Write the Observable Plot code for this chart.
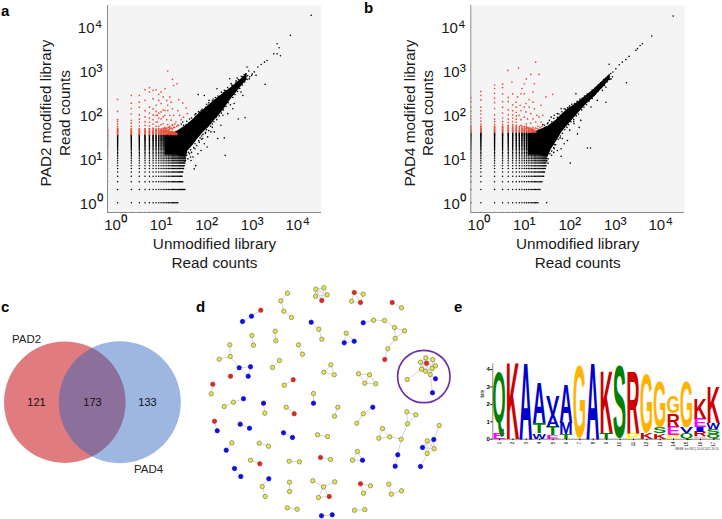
<!DOCTYPE html>
<html><head><meta charset="utf-8">
<script src="https://cdn.jsdelivr.net/npm/d3@7"></script>
<script src="https://cdn.jsdelivr.net/npm/@observablehq/plot@0.6"></script>
<style>
html,body{margin:0;padding:0;background:#fff;font-family:"Liberation Sans",Arial,sans-serif}
#page{position:relative;width:722px;height:519px;overflow:hidden}
#page svg{position:absolute;background:transparent}
.tag{position:absolute;font:bold 15px "Liberation Sans",Arial,sans-serif;color:#000}
</style></head><body><div id="page"></div>
<script>
// ---------- panel a / b scatter: integer read-count lattice ----------
const rowsA=[0.6,1,2,3,4,5,6,7,8,9,10,11,12,13,14,15,16,17,18,19,20,21,22,23,24,25,26,27,28,29,30,31,32,33,34,35];
const rowMaxA=[22,21,30,27,26,27,28,29,30,31,31,31,31,32,32,32,32,32,32,32,32,32,32,32,32,32,32,32,32,32,32,32,32,32,32,32];
const rowsB=[0.6,1,2,3,4,5,6,7,8,9,10,11,12,13,14,15,16,17,18,19,20,21,22,23,24,25,26,27,28,29,30,31,32,33,34,35,36,37,38,39];
const rowMaxB=[18,18,20,22,24,25,26,27,27,28,28,28,28,29,29,29,29,29,29,29,29,29,29,29,29,29,29,29,29,29,29,29,29,29,29,29,29,29,29,29];
const latticeCols=[0.6,1,2,3,4,5,6,7,8,9,10,11,12,13,14,15,16,17,18,19,20,21,22,23,24,25,26,27,28,29,30,31,32];
// dense wedge envelopes
const wedgeXA=[11,20,30,35,45,60,80,100,150,200,300,500,700];
const wedgeLowA=[12,12,11,15,20,30,42,52,85,120,220,420,630];
const wedgeHighA=[34,42,55,62,78,105,135,165,235,295,405,640,880];
const wedgeXB=[11,20,30,35,45,60,80,100,150,200,300,500,700];
const wedgeLowB=[12,12,11,16,24,40,57,74,120,165,245,435,645];
const wedgeHighB=[36,46,55,62,76,102,132,155,210,265,375,615,855];
// individual black points
const blackA=[[17800,18500],[6240,6480],[3180,4170],[3515,3390],[2690,2460],[3180,2460],[3760,2230],[1730,496],[1910,1740],[1680,1590],[1420,1410],[1200,1230],[695,1230],[630,86],[290,665],[152,395],[220,363],[80,276],[59,290],[230,12],[220,30],[158,29],[447,81],[338,138],[145,89],[112,41],[92,18.6],[80,22],[68,15.5],[48,5.9],[52,7],[41,9.2],[45,11],[58,13],[74,29],[95,31.6],[133,41],[186,58],[204,98],[263,107],[363,182],[513,331],[562,276],[776,661],[881,794],[1000,955],[1096,794],[468,562],[398,562],[338,468],[263,276],[170,257],[133,195],[102,214],[68,126],[52,107],[38,81],[27,69],[32,60],[40,11],[36,14],[50,17],[62,24],[70,33],[85,40],[120,52],[60,120],[90,175],[125,230],[240,360],[310,520],[420,690],[600,830],
[25,62],[28,58],[33,72],[37,66],[42,85],[46,78],[50,100],[55,92],[62,115],[66,105],[72,135],[78,125],[85,150],[92,140],[100,190],[110,175],[120,210],[130,195],[140,250],[160,270],[175,250],[190,330],[210,320],[230,340],[260,420],[280,390],[320,480],[360,460],[400,600],[450,640],[520,760],[560,740],[650,860],[720,780],[760,1000],
[30,9],[33,12],[35,10],[38,13],[40,16],[42,14],[47,18],[50,22],[55,20],[60,26],[65,30],[70,28],[75,36],[85,38],[90,46],[100,44],[110,55],[120,62],[130,70],[150,78],[170,95],[190,110],[210,130],[240,155],[270,190],[300,170],[340,250],[380,290],[430,340],[480,400],[550,480],[620,560],[700,640],[800,740],[900,850]];
const blackB=[[16900,17800],[5730,6280],[3570,4170],[3170,3800],[2770,3230],[2560,2950],[1820,2150],[1540,1820],[1290,1590],[1100,1390],[930,1120],[660,1420],[1590,540],[560,195],[220,17.6],[257,17.6],[92,8],[58,11.4],[58,17],[48,15.5],[40,14],[41,17],[158,75],[145,52],[133,37],[80,26],[68,22],[62,29],[112,63],[123,302],[87,151],[68,138],[58,138],[48,107],[41,98],[35,89],[32,75],[29,63],[23,60],[26,52],[19,45],[16,49],[309,276],[219,214],[170,195],[263,151],[363,214],[468,363],[562,427],[724,661],[28,1],[36,12],[30,10],[42,21],[55,30],[90,45],[110,70],
[25,58],[30,66],[36,70],[40,84],[48,88],[52,105],[60,118],[66,110],[72,135],[80,145],[90,160],[100,175],[115,180],[130,205],[150,230],[170,240],[190,270],[220,300],[250,320],[280,370],[330,420],[380,480],[430,530],[500,640],[560,680],[640,790],[720,880],[800,950],
[28,9],[30,8],[33,13],[36,15],[40,18],[44,21],[50,28],[56,33],[62,38],[70,46],[78,52],[85,60],[95,70],[110,78],[125,95],[140,105],[165,130],[185,150],[210,170],[240,205],[280,235],[330,300],[380,350],[450,420],[520,470],[600,560],[680,640],[780,740]];
// red points: columns at low x
const redColsA=[[0.6,[130,110,95,80,70,60,52,45,40]],[1,[225,120,78,70,62,55,50,46,42,38]],[2,[280,185,140,105,75,65,55,48,42,38]],[3,[280,195,150,100,80,68,56,48,42,38]],[4,[375,215,125,90,70,58,48,42,38]],[5,[417,331,150,110,85,68,56,48,42,38]],[6,[363,234,138,100,78,62,50,42,38]],[7,[372,166,120,98,69,55,45,40]],[8,[295,214,110,85,55,48,42,38]],[9,[331,182,117,81,60,45,40]],[10,[257,130,90,63,50,44,40]]];
const redA=[[12.6,1000],[16,645],[20,513],[17,468],[11,398],[14,257],[12,214],[12.6,166],[15,195],[22,224],[27,186],[32,145],[12.6,126],[11,126],[16,138],[21,126],[7.5,98],[11,98],[14,98],[17,98],[23,98],[28,89],[25,78],[34,107],[12,78],[15,76],[19,69],[7.5,69],[12.6,60],[16,60],[21,58],[11,52],[14,51],[17,52],[11,42],[12,44],[13,46],[14,48],[15,50],[16,48],[18,52],[20,55],[22,58],[12,50],[14,55],[16,58],[18,62],[11,48],[13,52]];
const redBandYA=[36,38,40,42,45,48];
const redBandMaxA=[20,20,18,16,13,11];
const redColsB=[[0.6,[250,200,150,120,95,80,68,58,50,44]],[1,[340,280,220,150,125,105,85,72,62,55,48,42]],[2,[480,400,310,240,190,140,100,80,70,60,52,46,42]],[3,[500,420,300,200,150,110,85,70,60,52,46,42]],[4,[250,200,130,100,80,68,58,50,44]],[5,[300,170,125,100,85,70,60,50,44]],[6,[150,115,95,80,68,58,50,44]]];
const redB=[[16,1590],[6.7,1175],[3.9,1030],[19,835],[12.5,835],[10,661],[4.8,562],[9,513],[15,513],[8,398],[7.6,302],[14,331],[38,295],[27,257],[6.4,257],[9,302],[5.9,195],[11.5,224],[14,195],[9.8,182],[7.3,166],[9,151],[11.5,151],[15,138],[21,166],[7.6,126],[9.8,117],[12.5,107],[6.9,98],[17,98],[23,98],[9,89],[10.6,81],[14,81],[19,89],[7.6,78],[21,69],[16,69],[12.5,65],[10,63],[7.6,58],[14,52],[18,55],[10.6,51],[8,48],[9,45],[10,50],[12,48],[14,46],[16,50],[18,48],[20,52],[22,55]];
const redBandYB=[41,43,45,48,51,55];
const redBandMaxB=[16,16,15,14,12,10];
const decadeTicks=[1,10,100,1000,10000];
const sup={"0":"⁰","1":"¹","2":"²","3":"³","4":"⁴"};
// ---------- panel c ----------
const vennSets=["PAD2","PAD4"];
const vennCentreX=[64.3,119.3];
const vennCentreY=[111.7,111.7];
const vennCounts=[121,173,133];
const vennCountX=[36,92,147];
const vennCountY=[111.7,111.7,111.7];
const vennLabelX=[26,148];
const vennLabelY=[49,178.5];
// ---------- panel d: network layout ----------
const netGroups=[
 [[[287,292.7,"y"],[280.3,300.3,"y"],[283.3,310.7,"y"],[291,317,"y"]],[[0,1],[1,2],[2,3]]],
 [[[315.3,288.7,"y"],[323.3,287.3,"y"],[326.7,294.3,"y"],[315,295.7,"y"],[321.3,300,"r"]],[[0,1],[0,2],[0,3],[0,4],[1,2],[1,3],[1,4],[2,3],[2,4],[3,4]]],
 [[[260.3,309.7,"r"],[251,315.7,"b"],[242,321,"b"]],[[0,1],[1,2]]],
 [[[310.7,321.7,"b"],[318.3,328.7,"y"],[321.3,338.7,"y"]],[[0,1],[1,2]]],
 [[[251.3,335,"y"],[253,344.7,"y"]],[[0,1]]],
 [[[274.7,330.7,"y"],[275.3,340.3,"y"]],[[0,1]]],
 [[[298,344.3,"y"],[302,353.7,"y"]],[[0,1]]],
 [[[229.3,344.3,"y"],[229.7,356,"y"],[218.7,358.7,"y"],[238.7,367.3,"b"],[250,366.3,"b"],[247.7,375.7,"b"],[230,375.7,"r"]],[[0,1],[1,2],[1,3],[3,4],[3,5],[4,5],[3,6]]],
 [[[279,360,"y"],[272,367,"y"]],[[0,1]]],
 [[[330.3,364.3,"y"],[323.3,371.7,"y"],[333.7,374.3,"y"]],[[0,1],[1,2],[0,2]]],
 [[[292.7,379.3,"r"],[283.7,384.7,"y"]],[[0,1]]],
 [[[212.3,383.7,"r"],[210.7,393.3,"y"]],[[0,1]]],
 [[[313,393,"y"],[313,402.7,"b"]],[[0,1]]],
 [[[243,398.3,"b"],[233,401.7,"y"],[223.7,406,"y"]],[[0,1],[1,2]]],
 [[[263,402.7,"b"],[264.3,412.7,"y"]],[[0,1]]],
 [[[285.7,406.7,"y"],[293.7,413.3,"r"]],[[0,1]]],
 [[[337.3,406.7,"y"],[334,415.7,"y"]],[[0,1]]],
 [[[214,420.7,"r"],[216.7,430.3,"b"]],[[0,1]]],
 [[[239.7,423.7,"b"],[249,427.7,"b"]],[[0,1]]],
 [[[283,432.3,"b"],[292,437,"b"]],[[0,1]]],
 [[[317,434.3,"y"],[327,436,"y"]],[[0,1]]],
 [[[231.3,442.3,"y"],[225.7,449.7,"b"]],[[0,1]]],
 [[[258.7,442.7,"y"],[268,445.7,"y"]],[[0,1]]],
 [[[250,459.7,"y"],[259.3,463.3,"r"]],[[0,1]]],
 [[[288.7,460.7,"y"],[299,461.3,"y"]],[[0,1]]],
 [[[320,457,"r"],[330,459,"y"]],[[0,1]]],
 [[[234,468,"b"],[240.3,476,"b"]],[[0,1]]],
 [[[268.3,478.3,"b"],[261.7,486,"y"],[264.7,496,"y"]],[[0,1],[1,2]]],
 [[[289,481.7,"y"],[289,491,"y"]],[[0,1]]],
 [[[312.3,480.3,"y"],[323,486.3,"y"],[318,497,"y"],[328.7,496,"r"],[334.3,481.3,"y"]],[[0,1],[1,2],[1,3],[2,3],[1,4]]],
 [[[286.7,507.3,"y"],[296.7,508.7,"y"]],[[0,1]]],
 [[[321,515.3,"b"],[331.7,514.3,"b"]],[[0,1]]],
 [[[353.7,292,"r"],[362.7,293.7,"y"],[351,300.7,"y"],[360,302,"r"]],[[0,1],[0,2],[0,3],[1,3],[2,3]]],
 [[[391.7,302,"r"],[401,307.3,"y"]],[[0,1]]],
 [[[362.7,322.3,"b"],[373,319.7,"y"],[384,320,"y"],[394,327,"y"],[404,330.3,"y"],[394.7,338,"y"],[387.3,348.3,"y"],[384.3,359,"r"]],[[0,1],[1,2],[2,3],[3,4],[3,5],[4,5],[5,6],[6,7]]],
 [[[345.7,332.7,"y"],[353.7,340.7,"b"],[343.7,342.3,"b"]],[[0,1],[0,2],[1,2]]],
 [[[358,373.3,"y"],[369,374.3,"y"],[364.3,382.7,"y"],[375.3,383.3,"y"]],[[0,1],[0,2],[1,2],[1,3],[2,3]]],
 [[[425.3,357.3,"y"],[432.3,359,"y"],[420,361.7,"y"],[426,362.7,"r"],[435,365.3,"y"],[421,368.7,"y"],[431.7,368,"y"],[425,370.7,"y"],[429.7,374,"y"],[406.7,379,"y"],[435,378.3,"b"],[432,392.3,"b"]],[[0,1],[0,2],[0,3],[0,5],[0,6],[1,3],[1,4],[1,6],[2,3],[2,5],[2,7],[3,4],[3,5],[3,6],[3,7],[3,8],[4,6],[4,8],[5,7],[5,8],[6,7],[6,8],[7,8],[5,9],[8,10],[8,11]]],
 [[[372.3,406.7,"b"],[362.7,413.3,"y"],[356.3,422.7,"y"]],[[0,1],[1,2]]],
 [[[406.3,411.3,"y"],[415.3,414.3,"y"],[407,423.3,"y"],[400.7,438.7,"y"],[389.3,436.3,"y"],[382,428,"y"],[378.3,437.7,"y"],[397.3,454.3,"b"],[394.7,465.7,"b"]],[[0,1],[0,2],[1,2],[2,3],[3,4],[4,5],[4,6],[5,6],[3,7],[7,8]]],
 [[[438.7,425,"y"],[433.3,439,"b"],[426.7,440.3,"y"],[422,447,"b"],[433.7,448.3,"y"],[426.7,453,"y"],[420,466,"b"]],[[0,1],[1,2],[1,3],[1,4],[1,5],[2,3],[2,4],[2,5],[3,4],[3,5],[4,5],[5,6]]],
 [[[357,451,"y"],[352,459.7,"y"],[362,459.7,"b"]],[[0,1],[0,2],[1,2]]],
 [[[360,483.3,"r"],[370,485.3,"y"],[363,492.7,"y"]],[[0,1],[0,2],[1,2]]],
 [[[388.3,483.7,"y"],[390.7,493.7,"y"],[401,490.3,"y"]],[[0,1],[1,2]]],
 [[[354,509.7,"y"],[364.3,509,"y"]],[[0,1]]]
];
const netColors={y:"#e9e83a",b:"#1010d8",r:"#cc2f26"};
const netHighlight=[[423.3,376]];
// ---------- panel e: sequence logo ----------
const logoStacks=[
 [["E",.35],["Q",3.4]],
 [["K",4.3]],
 [["A",4.3]],
 [["W",.3],["T",.6],["A",2.25]],
 [["E",.2],["T",.5],["A",.65],["V",1.1]],
 [["T",.27],["M",.65],["A",2.2]],
 [["G",4.2]],
 [["A",4.3]],
 [["T",.35],["K",3.45]],
 [["S",4.2]],
 [["P",.35],["R",3.45]],
 [["K",.33],["G",3.42]],
 [["K",.3],["S",.35],["G",2.62]],
 [["P",.2],["E",.5],["R",.75],["G",.95]],
 [["Q",.3],["V",.35],["G",2.68]],
 [["H",.15],["R",.25],["I",.25],["E",.5],["K",1.15]],
 [["Q",.25],["S",.28],["W",.35],["K",2.05]]
];
const logoColors={A:"#0000cc",V:"#0000cc",W:"#0000cc",M:"#0000cc",I:"#0000cc",T:"#008000",Q:"#008000",S:"#008000",E:"#ff00ff",G:"#ffb300",K:"#cc0000",R:"#cc0000",P:"#ffff00",H:"#ffb6c1"};
const logoPositions=[1,2,3,4,5,6,7,8,9,10,11,12,13,14,15,16,17];
const bitTicks=[0,1,2,3,4];
const logoCaption="MEME (no SSC) 10.04.2021 16:53";
// glyph metrics of the bold face, in em
const glyphAdvance={A:.722,E:.667,G:.778,H:.722,I:.278,K:.722,M:.833,P:.667,Q:.778,R:.722,S:.667,T:.611,V:.667,W:.944};
const glyphTop={G:.70,S:.70,Q:.70};
const glyphDrop={G:.012,S:.012,Q:.13};

const page=document.getElementById("page");
function place(el,left,top){el.style.left=left+"px";el.style.top=top+"px";page.appendChild(el);}
function tag(t,l,tp){const d=document.createElement("div");d.className="tag";d.textContent=t;d.style.left=l+"px";d.style.top=tp+"px";page.appendChild(d);}

function scatter({left,width,mL,mR,yLabel,rows,rowMax,wedgeX,wedgeLow,wedgeHigh,black,redCols,red,bandY,bandMax}){
  const lattice=[];
  rows.forEach((y,i)=>latticeCols.forEach(x=>{if(x<=rowMax[i])lattice.push([x,y]);}));
  const band=[];
  bandY.forEach((y,i)=>latticeCols.forEach(x=>{if(x<=bandMax[i])band.push([x,y]);}));
  const redAll=red.concat(band,redCols.flatMap(([x,ys])=>ys.map(y=>[x,y])));
  const wedge=wedgeX.map((x,i)=>({x,lo:wedgeLow[i],hi:wedgeHigh[i]}));
  const fmt=d=>"10"+sup[String(Math.round(Math.log10(d)))];
  const svg=Plot.plot({
    width,height:285,marginLeft:mL,marginRight:mR,marginTop:5,marginBottom:73,
    style:{fontFamily:"Liberation Sans, Arial, sans-serif",background:"transparent"},
    x:{type:"log",domain:[0.6,30000]},
    y:{type:"log",domain:[0.6,31000]},
    marks:[
      Plot.frame({fill:"#f4f4f4",stroke:"none"}),
      Plot.areaY(wedge,{x:"x",y1:"lo",y2:"hi",fill:"#000"}),
      Plot.dot(lattice,{x:d=>d[0],y:d=>d[1],r:0.75,fill:"#000",clip:true}),
      Plot.dot(black,{x:d=>d[0],y:d=>d[1],r:0.8,fill:"#000",clip:true}),
      Plot.dot(redAll,{x:d=>d[0],y:d=>d[1],r:0.85,fill:"#e8503c",clip:true}),
      Plot.ruleX([0.6],{stroke:"#8c8c8c",strokeWidth:1}),
      Plot.ruleY([0.6],{stroke:"#8c8c8c",strokeWidth:1}),
      Plot.axisX({ticks:decadeTicks,tickFormat:fmt,tickSize:0,tickPadding:7,dx:-2,fontSize:15,label:null,fill:"#1a1a1a"}),
      Plot.axisY({ticks:decadeTicks,tickFormat:fmt,tickSize:0,tickPadding:5,dy:1,fontSize:15,label:null,fill:"#1a1a1a"}),
      Plot.text(["Unmodified library\nRead counts"],{frameAnchor:"bottom",dy:55,fontSize:15.3,lineHeight:1.2,lineAnchor:"bottom",fill:"#1a1a1a"}),
      Plot.text([yLabel+"\nRead counts"],{frameAnchor:"left",textAnchor:"middle",dx:-53,dy:4,rotate:-90,fontSize:15.3,lineHeight:1.2,fill:"#1a1a1a"})
    ]
  });
  // enlarge the superscript glyphs of the decade labels
  d3.select(svg).selectAll("text").each(function(){
    const s=this.textContent;
    if(/^10[⁰¹²³⁴]$/.test(s)){this.textContent="10";d3.select(this).append("tspan").attr("font-size",18.5).text(s[2]);}
  });
  place(svg,left,0);
}
scatter({left:0,width:360,mL:107,mR:39,yLabel:"PAD2 modified library",rows:rowsA,rowMax:rowMaxA,wedgeX:wedgeXA,wedgeLow:wedgeLowA,wedgeHigh:wedgeHighA,black:blackA,redCols:redColsA,red:redA,bandY:redBandYA,bandMax:redBandMaxA});
scatter({left:360,width:362,mL:110.3,mR:38,yLabel:"PAD4 modified library",rows:rowsB,rowMax:rowMaxB,wedgeX:wedgeXB,wedgeLow:wedgeLowB,wedgeHigh:wedgeHighB,black:blackB,redCols:redColsB,red:redB,bandY:redBandYB,bandMax:redBandMaxB});

// Venn
place(Plot.plot({
  width:195,height:229,margin:0,
  style:{fontFamily:"Liberation Sans, Arial, sans-serif",background:"transparent"},
  x:{domain:[0,195],axis:null},y:{domain:[229,0],axis:null},
  marks:[
    Plot.dot([0],{x:()=>vennCentreX[0],y:()=>vennCentreY[0],r:60.8,fill:"#e07b7f"}),
    Plot.dot([0],{x:()=>vennCentreX[1],y:()=>vennCentreY[1],r:61,fill:"#2a62bc",fillOpacity:0.46}),
    Plot.text(vennCounts,{x:(d,i)=>vennCountX[i],y:(d,i)=>vennCountY[i],text:d=>String(d),fontSize:11,fill:"#111"}),
    Plot.text(vennSets,{x:(d,i)=>vennLabelX[i],y:(d,i)=>vennLabelY[i],text:d=>d,fontSize:11.5,fill:"#222"})
  ]
}),0,290);

// Network
const netNodes=netGroups.flatMap(g=>g[0]);
const netLinks=netGroups.flatMap(g=>g[1].map(([a,b])=>[g[0][a],g[0][b]]));
place(Plot.plot({
  width:270,height:239,margin:0,
  style:{background:"transparent"},
  x:{domain:[195,465],axis:null},y:{domain:[519,280],axis:null},
  color:{type:"identity"},
  marks:[
    Plot.link(netLinks,{x1:d=>d[0][0],y1:d=>d[0][1],x2:d=>d[1][0],y2:d=>d[1][1],stroke:"#cfcfcf",strokeWidth:0.9}),
    Plot.dot(netNodes,{x:d=>d[0],y:d=>d[1],r:2.2,fill:d=>netColors[d[2]],stroke:d=>d[2]==="y"?"#777":netColors[d[2]],strokeWidth:0.7}),
    Plot.dot(netHighlight,{x:d=>d[0],y:d=>d[1],r:26.2,stroke:"#7030a0",strokeWidth:1.7,fill:"none"})
  ]
}),195,280);

// Sequence logo: each letter stretched to its cell through the plot's scales
const logoCells=logoStacks.flatMap((stack,i)=>{let y=0;return stack.map(([ch,h])=>{const c={pos:logoPositions[i],ch,y0:y,y1:y+h};y+=h;return c;});});
function logoMark(index,{x,y}){
  const g=d3.create("svg:g").attr("font-family","Liberation Sans, Arial, sans-serif").attr("font-weight","bold").attr("text-anchor","start");
  for(const c of logoCells){
    const x0=x(c.pos-0.5),w=x(c.pos+0.5)-x0,base=y(c.y0),h=base-y(c.y1);
    const top=glyphTop[c.ch]||.68,drop=glyphDrop[c.ch]||0;
    const fs=h/(top+drop);
    const sx=w/(glyphAdvance[c.ch]*fs);
    g.append("text").attr("transform",`translate(${x0},${base-drop*fs}) scale(${sx},1)`).attr("font-size",fs).attr("fill",logoColors[c.ch]).text(c.ch);
  }
  return g.node();
}
place(Plot.plot({
  width:247,height:120,marginLeft:17.3,marginRight:2,marginTop:23.5,marginBottom:21.3,
  style:{fontFamily:"Liberation Sans, Arial, sans-serif",background:"transparent"},
  x:{type:"linear",domain:[0.5,17.5]},y:{domain:[0,4.32]},
  marks:[
    Plot.ruleX([0.5],{stroke:"#333",strokeWidth:0.6}),
    Plot.ruleY([0],{stroke:"#333",strokeWidth:0.6}),
    logoMark,
    Plot.axisY({ticks:bitTicks,tickSize:2,tickPadding:1,fontSize:6,fontWeight:"bold",label:null,tickFormat:d=>String(d)}),
    Plot.axisX({ticks:logoPositions,tickSize:1.5,tickPadding:1,fontSize:4.5,tickRotate:-90,label:null,tickFormat:d=>String(d)}),
    Plot.text(["bits"],{frameAnchor:"left",textAnchor:"middle",dx:-10,dy:-8,rotate:-90,fontSize:5}),
    Plot.text([logoCaption],{frameAnchor:"bottom-right",dy:11,dx:-2,textAnchor:"end",fontSize:2.8,fill:"#333"})
  ]
}),475,340);

tag("a",1,2);tag("b",364,-1);tag("c",1,298);tag("d",196,298);tag("e",454,298);
</script></body></html>
